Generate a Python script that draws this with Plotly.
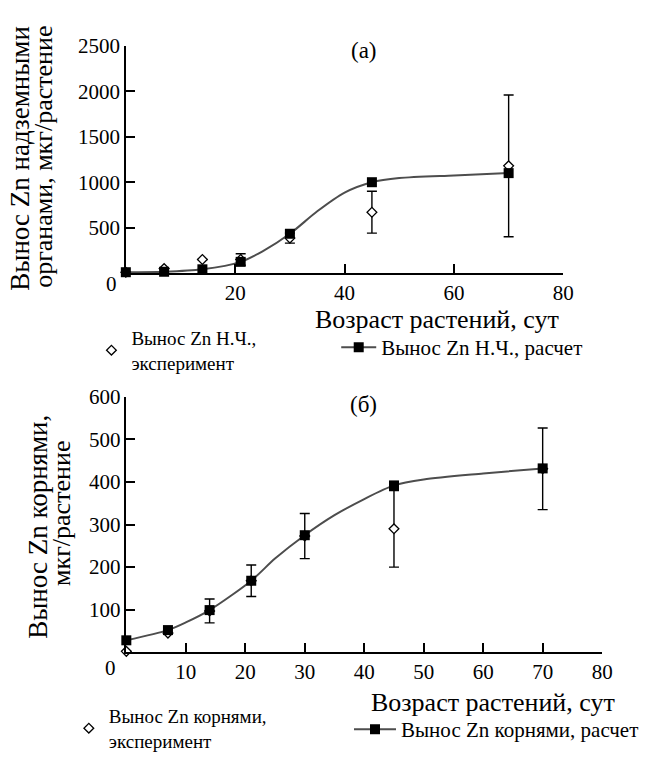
import plotly.graph_objects as go

FONT = "Liberation Serif"
W, H = 651, 760

# ---- (a) uptake by aerial parts ----
days_a = [0, 7, 14, 21, 30, 45, 70]
exp_a = [10, 50, 150, 150, 385, 670, 1180]
err_a = [0, 0, 0, 63, 55, 230, 780]
model_days_a = [0, 7, 14, 21, 25, 30, 35, 40, 45, 50, 60, 70]
model_a = [10, 15, 42, 124, 240, 433, 680, 886, 1000, 1046, 1075, 1100]

# ---- (б) uptake by roots ----
days_b = [0, 7, 14, 21, 30, 45, 70]
exp_b = [2, 45, 97, 168, 273, 290, 431]
err_b = [0, 0, 28, 37, 53, 90, 96]
model_days_b = [0, 7, 10, 14, 21, 25, 30, 35, 40, 45, 50, 60, 70]
model_b = [28, 52, 70, 99, 168, 220, 275, 322, 360, 392, 406, 420, 432]

xticks_a = [20, 40, 60, 80]
yticks_a = [500, 1000, 1500, 2000, 2500]
xticks_b = [10, 20, 30, 40, 50, 60, 70, 80]
yticks_b = [100, 200, 300, 400, 500, 600]

LINE_GREY = "#4d4d4d"


def px(x):
    return x / W


def py(y):
    return 1 - y / H


def sq_colors(model_days, days):
    # squares only on the sampling days, the other nodes just shape the curve
    return ["black" if d in days else "rgba(0,0,0,0)" for d in model_days]


fig = go.Figure()

# experiment points with error bars
fig.add_trace(go.Scatter(
    x=days_a, y=exp_a, mode="markers", xaxis="x", yaxis="y",
    name="Вынос Zn Н.Ч.,<br>эксперимент", legend="legend",
    marker=dict(symbol="diamond", size=7.5, color="white",
                line=dict(color="black", width=1.3)),
    error_y=dict(type="data", array=err_a, color="black", thickness=1.4, width=5),
    cliponaxis=False,
))
# model curve with computed points
fig.add_trace(go.Scatter(
    x=model_days_a, y=model_a, mode="lines+markers", xaxis="x", yaxis="y",
    name="Вынос Zn Н.Ч., расчет", legend="legend2",
    line=dict(color=LINE_GREY, width=2, shape="spline", smoothing=0.8),
    marker=dict(symbol="square", size=10, color=sq_colors(model_days_a, days_a),
                line=dict(width=0)),
    cliponaxis=False,
))

fig.add_trace(go.Scatter(
    x=days_b, y=exp_b, mode="markers", xaxis="x2", yaxis="y2",
    name="Вынос Zn корнями,<br>эксперимент", legend="legend3",
    marker=dict(symbol="diamond", size=7.5, color="white",
                line=dict(color="black", width=1.3)),
    error_y=dict(type="data", array=err_b, color="black", thickness=1.4, width=5),
    cliponaxis=False,
))
fig.add_trace(go.Scatter(
    x=model_days_b, y=model_b, mode="lines+markers", xaxis="x2", yaxis="y2",
    name="Вынос Zn корнями, расчет", legend="legend4",
    line=dict(color=LINE_GREY, width=2, shape="spline", smoothing=0.8),
    marker=dict(symbol="square", size=10, color=sq_colors(model_days_b, days_b),
                line=dict(width=0)),
    cliponaxis=False,
))

axis_common = dict(
    showline=True, linecolor="black", linewidth=1.5,
    ticks="inside", ticklen=9, tickwidth=1.5, tickcolor="black",
    showgrid=False, zeroline=False,
    tickfont=dict(family=FONT, size=21, color="black"),
)

legend_common = dict(
    bgcolor="rgba(0,0,0,0)", borderwidth=0,
    xanchor="left", yanchor="middle", valign="middle",
)
LEG_FONT = dict(family=FONT, size=21, color="black")
LEG_FONT_2L = dict(family=FONT, size=19, color="black")

fig.update_layout(
    width=W, height=H,
    margin=dict(l=0, r=0, t=0, b=0),
    paper_bgcolor="white", plot_bgcolor="white",
    font=dict(family=FONT, color="black"),
    showlegend=True,
    xaxis=dict(domain=[px(128), px(573)], range=[0, 80], tickvals=xticks_a,
               anchor="y", **axis_common),
    yaxis=dict(domain=[py(270), py(35)], range=[0, 2500], tickvals=yticks_a,
               anchor="x", **axis_common),
    xaxis2=dict(domain=[px(128.5), px(612.5)], range=[0, 80], tickvals=xticks_b,
                anchor="y2", **axis_common),
    yaxis2=dict(domain=[py(662), py(398)], range=[0, 600], tickvals=yticks_b,
                anchor="x2", **axis_common),
    legend=dict(x=px(93), y=py(350), itemwidth=30, font=LEG_FONT_2L, **legend_common),
    legend2=dict(x=px(342), y=py(347), itemwidth=35, font=LEG_FONT, **legend_common),
    legend3=dict(x=px(70), y=py(741), itemwidth=30, font=LEG_FONT_2L, **legend_common),
    legend4=dict(x=px(355), y=py(742), itemwidth=42, font=LEG_FONT, **legend_common),
)

TXT = dict(family=FONT, color="black")


def note(text, x, y, size, **kw):
    fig.add_annotation(text=text, x=px(x), y=py(y), xref="paper", yref="paper",
                       showarrow=False, font=dict(size=size, **TXT), **kw)


# corner zero labels
note("0", 113, 281, 21, xanchor="center", yanchor="middle")
note("0", 112, 678, 21, xanchor="center", yanchor="middle")

# panel labels
note("(a)", 370, 40, 23, xanchor="center", yanchor="middle")
note("(б)", 370, 406, 23, xanchor="center", yanchor="middle")

# x-axis titles
note("Возраст растений, сут", 318, 301, 26, xanchor="left", yanchor="top")
note("Возраст растений, сут", 375, 697, 26, xanchor="left", yanchor="top")

# y-axis titles
note("Вынос Zn надземными", 20, 12, 27, xanchor="center", yanchor="top", textangle=-90)
note("органами, мкг/растение", 44, 12, 26, xanchor="center", yanchor="top", textangle=-90)
note("Вынос Zn корнями,", 38, 532, 27, xanchor="center", yanchor="middle", textangle=-90)
note("мкг/растение", 63, 518, 26, xanchor="center", yanchor="middle", textangle=-90)

fig.write_html("out.html")
